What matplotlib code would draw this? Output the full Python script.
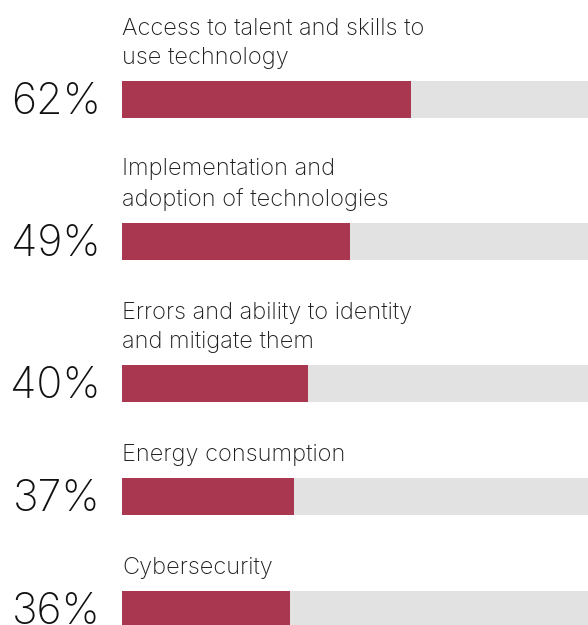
import matplotlib
matplotlib.use("Agg")
import matplotlib.pyplot as plt

categories = [
    "Access to talent and skills to\nuse technology",
    "Implementation and\nadoption of technologies",
    "Errors and ability to identity\nand mitigate them",
    "Energy consumption",
    "Cybersecurity",
]
values = [62, 49, 40, 37, 36]
pct_labels = ["62%", "49%", "40%", "37%", "36%"]

W, H = 588, 625
fig = plt.figure(figsize=(W / 100, H / 100), dpi=100)
left_px = 122
ax = fig.add_axes([left_px / W, 0, (W - left_px) / W, 1])
ax.set_xlim(0, 100)
ax.set_ylim(H, 0)
ax.axis("off")

bar_h = 37
line_step = 29
gap = 47
centers = []
c = 99.5
for i, cat in enumerate(categories):
    if i > 0:
        nl = cat.count("\n") + 1
        c = c + bar_h + gap + nl * line_step
    centers.append(c)

px_per_unit = (W - left_px) / 100.0

ax.barh(centers, [100] * len(values), height=bar_h, color="#E2E2E2", left=0)
ax.barh(centers, values, height=bar_h, color="#A8374F", left=0)

font = dict(family=["Inter", "DejaVu Sans"], fontweight="light")
for cy, cat, pl in zip(centers, categories, pct_labels):
    top = cy - bar_h / 2
    ax.text(0, top - 17, cat, ha="left", va="baseline", fontsize=17,
            color="#1e1e1e", linespacing=1.43, **font)
    ax.text((101 - left_px) / px_per_unit, cy + 14.5, pl, ha="right", va="baseline",
            fontsize=31, color="#111111", **font)

fig.savefig("out.png", dpi=100)
